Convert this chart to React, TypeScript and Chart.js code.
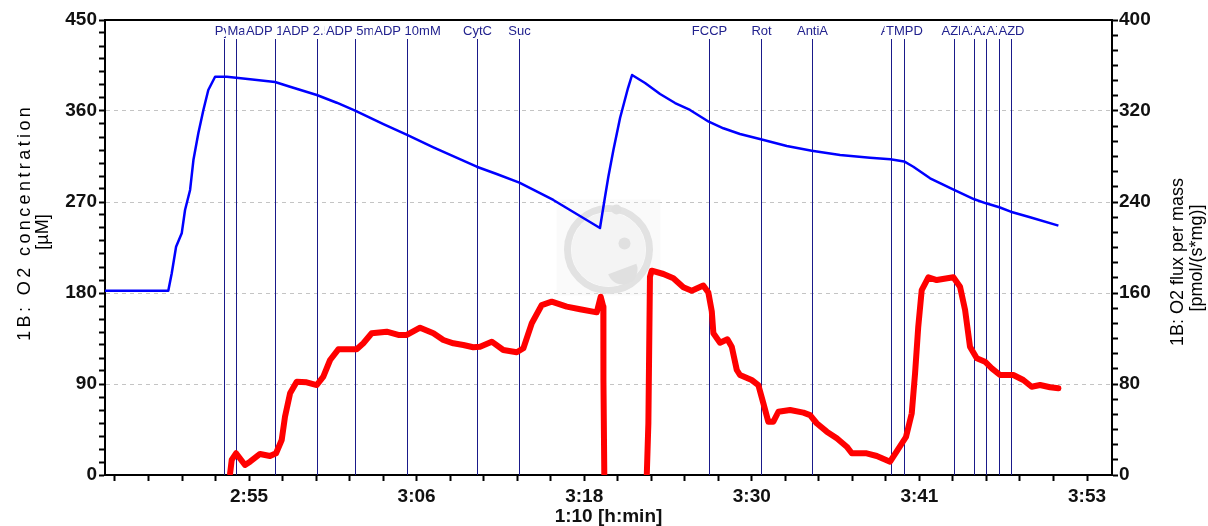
import { useEffect, useRef } from 'react';
import { Chart, registerables } from 'chart.js';

Chart.register(...registerables);

// ---- data (time in minutes of the day) ----
const o2Time = [164.83, 169.21, 169.45, 169.75, 170.14, 170.37, 170.72, 170.95, 171.29, 171.64, 171.98, 172.45, 173.26, 174.87, 176.60, 177.64, 179.49, 180.87, 182.14, 184.10, 185.74, 187.56, 190.56, 191.94, 193.51, 195.86, 199.09, 199.44, 199.67, 200.02, 200.48, 201.03, 201.31, 202.21, 203.25, 204.29, 205.32, 206.62, 207.63, 208.78, 210.22, 212.02, 213.75, 215.71, 217.78, 219.19, 220.14, 220.78, 221.94, 223.60, 225.00, 225.81, 226.73, 227.52, 228.86, 230.82];
const o2Conc = [182.3, 182.3, 199.5, 225.8, 239.0, 262.1, 281.9, 311.5, 337.9, 361.0, 380.8, 393.9, 393.9, 391.3, 388.7, 384.0, 375.8, 368.2, 360.3, 347.1, 336.3, 324.1, 304.9, 297.7, 289.1, 272.0, 244.3, 275.2, 295.0, 321.4, 353.1, 382.7, 395.6, 387.7, 376.8, 367.9, 361.0, 349.4, 342.9, 337.3, 332.0, 325.4, 320.7, 316.5, 313.8, 312.2, 310.1, 304.9, 293.4, 281.9, 272.7, 268.7, 264.8, 260.4, 254.9, 246.6];

const fluxTime = [173.49, 173.60, 173.90, 174.52, 174.87, 175.56, 176.25, 176.67, 177.06, 177.29, 177.64, 178.10, 178.79, 179.49, 179.94, 180.41, 180.98, 182.25, 182.71, 183.29, 184.33, 185.13, 185.72, 186.64, 187.56, 188.25, 188.94, 189.63, 190.32, 190.79, 191.60, 192.40, 193.33, 193.79, 194.37, 195.06, 195.75, 196.79, 197.71, 198.87, 199.14, 199.32, 199.33, 199.39, 201.0, 202.33, 202.44, 202.55, 202.67, 203.48, 204.17, 204.86, 205.44, 206.24, 206.59, 206.83, 206.94, 207.40, 207.91, 208.21, 208.56, 208.78, 209.59, 210.05, 210.40, 210.74, 211.09, 211.44, 212.25, 213.17, 213.63, 214.09, 214.79, 215.48, 216.17, 216.52, 217.55, 218.25, 219.17, 219.63, 220.27, 220.67, 220.90, 221.12, 221.36, 221.82, 222.40, 223.55, 224.01, 224.36, 224.70, 225.17, 225.74, 226.21, 226.78, 227.70, 228.39, 228.97, 229.55, 230.24, 230.82];
const fluxValue = [1.5, 13.2, 19.1, 8.8, 11.7, 18.5, 16.7, 19.1, 30.8, 51.3, 71.8, 82.0, 81.5, 79.1, 86.4, 101.1, 110.5, 110.5, 115.8, 124.6, 126.0, 123.1, 123.1, 129.5, 124.6, 118.7, 115.8, 114.3, 112.3, 112.8, 117.2, 109.9, 107.9, 111.4, 133.4, 149.4, 152.4, 148.0, 145.7, 143.0, 156.7, 148.0, 83.5, 0, null, 0, 45.5, 174.3, 179.6, 176.7, 172.9, 165.0, 162.0, 166.6, 160.4, 143.7, 124.6, 116.3, 119.3, 112.8, 92.3, 87.9, 83.5, 79.1, 63.0, 46.9, 46.9, 55.6, 57.1, 54.8, 52.7, 45.5, 38.1, 32.3, 24.9, 19.1, 19.1, 16.7, 11.7, 20.7, 33.4, 54.2, 89.4, 130.4, 162.6, 173.8, 171.4, 173.8, 165.5, 145.1, 112.8, 102.6, 99.6, 93.8, 87.9, 87.9, 83.5, 77.6, 79.1, 77.1, 76.2];

const eventTime = [173.07, 173.90, 176.60, 179.49, 182.14, 185.74, 190.56, 193.51, 206.62, 210.22, 213.75, 219.20, 220.14, 223.60, 225.00, 225.81, 226.73, 227.52];
const eventLabels = ['Pyr', 'Ma', 'ADP 1mM', 'ADP 2.5mM', 'ADP 5mM', 'ADP 10mM', 'CytC', 'Suc', 'FCCP', 'Rot', 'AntiA', 'Asc', 'TMPD', 'AZD', 'AZD', 'AZD', 'AZD', 'AZD'];

const xMajorTimes = [174.8, 186.4, 198.0, 209.6, 221.2, 232.8];
const xTickLabels = ['2:55', '3:06', '3:18', '3:30', '3:41', '3:53'];
const leftTickValues = [0, 90, 180, 270, 360, 450];
const rightTickValues = [0, 80, 160, 240, 320, 400];

const xTitle = '1:10 [h:min]';
const leftTitle = ['1B: O2 concentration', '[µM]'];
const rightTitle = ['1B: O2 flux per mass', '[pmol/(s*mg)]'];

const X_MIN = 164.83;
const X_MAX = 234.53;

const FONT = '"Liberation Sans", Arial, sans-serif';

const near = (a: number, b: number) => Math.abs(a - b) < 1e-6;

const overlayPlugin = {
  id: 'overlay',
  beforeDatasetsDraw(chart: any) {
    const { ctx, chartArea, scales } = chart;
    const xs = scales.x;
    // watermark logo (faint)
    const cx = (chartArea.left + chartArea.right) / 2;
    const cy = (chartArea.top + chartArea.bottom) / 2;
    ctx.save();
    ctx.fillStyle = 'rgba(238,238,238,0.3)';
    ctx.fillRect(cx - 52, cy - 48, 104, 96);
    ctx.strokeStyle = '#e2e2e2';
    ctx.lineWidth = 7;
    ctx.beginPath();
    ctx.arc(cx, cy + 2, 41, 0, Math.PI * 2);
    ctx.stroke();
    ctx.fillStyle = '#f4f4f4';
    ctx.beginPath();
    ctx.arc(cx, cy + 2, 37, 0, Math.PI * 2);
    ctx.fill();
    ctx.fillStyle = '#e0e0e0';
    ctx.beginPath();
    ctx.arc(cx + 14, cy + 22, 15, -0.4, Math.PI * 0.9);
    ctx.fill();
    ctx.beginPath();
    ctx.arc(cx + 16, cy - 4, 6, 0, Math.PI * 2);
    ctx.fill();
    ctx.beginPath();
    ctx.arc(cx + 8, cy - 38, 5, 0, Math.PI * 2);
    ctx.fill();
    ctx.restore();

    // event markers
    ctx.save();
    ctx.strokeStyle = '#1a1a8a';
    ctx.lineWidth = 1;
    eventTime.forEach((t) => {
      const px = Math.round(xs.getPixelForValue(t)) + 0.5;
      ctx.beginPath();
      ctx.moveTo(px, 39);
      ctx.lineTo(px, chartArea.bottom);
      ctx.stroke();
    });
    ctx.font = `13px ${FONT}`;
    ctx.textAlign = 'center';
    ctx.textBaseline = 'middle';
    eventTime.forEach((t, i) => {
      const px = Math.round(xs.getPixelForValue(t));
      const w = ctx.measureText(eventLabels[i]).width;
      ctx.fillStyle = '#ffffff';
      ctx.fillRect(px - w / 2 - 1, 23, w + 2, 15);
      ctx.fillStyle = '#22228e';
      ctx.fillText(eventLabels[i], px + 0.5, 31);
    });
    ctx.restore();
  },
  afterDraw(chart: any) {
    const { ctx, chartArea } = chart;
    ctx.save();
    // top frame line
    ctx.strokeStyle = '#000';
    ctx.lineWidth = 2;
    ctx.beginPath();
    ctx.moveTo(chartArea.left - 1, chartArea.top);
    ctx.lineTo(chartArea.right + 1, chartArea.top);
    ctx.stroke();
    // y titles (both read bottom-to-top)
    ctx.fillStyle = '#000';
    ctx.font = `18px ${FONT}`;
    ctx.textAlign = 'center';
    ctx.textBaseline = 'middle';
    const drawRot = (text: string, x: number, y: number, spacing = 0) => {
      ctx.save();
      ctx.translate(x, y);
      ctx.rotate(-Math.PI / 2);
      (ctx as any).letterSpacing = `${spacing}px`;
      ctx.fillText(text, spacing / 2, 0);
      ctx.restore();
    };
    drawRot(leftTitle[0], 25, 224, 3.4);
    drawRot(leftTitle[1], 43, 232);
    drawRot(rightTitle[0], 1178, 262);
    drawRot(rightTitle[1], 1197, 258);
    ctx.restore();
  },
};

export default function App() {
  const ref = useRef<HTMLCanvasElement | null>(null);

  useEffect(() => {
    if (!ref.current) return;
    const o2Points = o2Time.map((t, i) => ({ x: t, y: o2Conc[i] }));
    const fluxPoints = fluxTime.map((t, i) => ({ x: t, y: fluxValue[i] }));
    const tickFont = { family: FONT, size: 19, weight: 'bold' as const };

    const chart = new Chart(ref.current, {
      type: 'line',
      data: {
        datasets: [
          {
            label: '1B: O2 flux per mass',
            data: fluxPoints as any,
            yAxisID: 'y1',
            borderColor: '#ff0000',
            backgroundColor: '#ff0000',
            borderWidth: 6,
            pointRadius: 0,
            tension: 0,
            spanGaps: false,
            borderJoinStyle: 'round',
            borderCapStyle: 'round',
          },
          {
            label: '1B: O2 concentration',
            data: o2Points,
            yAxisID: 'y',
            borderColor: '#0000ff',
            backgroundColor: '#0000ff',
            borderWidth: 2.5,
            pointRadius: 0,
            tension: 0,
            borderJoinStyle: 'round',
          },
        ],
      },
      options: {
        responsive: false,
        animation: false,
        devicePixelRatio: 1,
        layout: { padding: { top: 20, left: 0, right: 0, bottom: 0 } },
        plugins: { legend: { display: false }, tooltip: { enabled: false } },
        scales: {
          x: {
            type: 'linear',
            min: X_MIN,
            max: X_MAX,
            afterFit: (s: any) => { s.height = 51; },
            afterBuildTicks: (s: any) => {
              const step = (xMajorTimes[1] - xMajorTimes[0]) / 5;
              const out: any[] = [];
              for (let k = -10; k < 40; k++) {
                const v = xMajorTimes[0] + k * step;
                if (v >= X_MIN - 1e-9 && v <= X_MAX + 1e-9) out.push({ value: v });
              }
              s.ticks = out;
            },
            ticks: {
              autoSkip: false,
              maxRotation: 0,
              minRotation: 0,
              padding: 4,
              color: '#111',
              font: tickFont,
              callback: (v: any) => {
                const j = xMajorTimes.findIndex((m) => Math.abs(m - Number(v)) < 0.01);
                return j >= 0 ? xTickLabels[j] : '';
              },
            },
            grid: { drawOnChartArea: false, drawTicks: true, tickLength: 6, tickWidth: 2, tickColor: '#000' },
            border: { display: true, color: '#000', width: 2 },
            title: { display: true, text: xTitle, color: '#111', font: { family: FONT, size: 19, weight: 'bold' }, padding: { top: 0, bottom: -2 } },
          },
          y: {
            type: 'linear',
            position: 'left',
            min: 0,
            max: 450,
            afterFit: (s: any) => { s.width = 105; },
            afterBuildTicks: (s: any) => {
              const step = (leftTickValues[1] - leftTickValues[0]) / 7;
              const out: any[] = [];
              for (let k = 0; k <= 35; k++) out.push({ value: k * step });
              s.ticks = out;
            },
            ticks: {
              autoSkip: false,
              padding: 2,
              color: '#111',
              font: tickFont,
              callback: (v: any) => {
                const t = leftTickValues.find((m) => near(m, Number(v)));
                return t === undefined ? '' : String(t);
              },
            },
            grid: {
              drawOnChartArea: true,
              tickLength: 6,
              tickWidth: 2,
              tickColor: '#000',
              color: (c: any) => {
                const v = c.tick ? c.tick.value : -1;
                const major = leftTickValues.some((m) => near(m, v));
                return major && v > 0 && v < 450 ? '#c4c4c4' : 'rgba(0,0,0,0)';
              },
            },
            border: { display: true, color: '#000', width: 2, dash: [4, 4] },
          },
          y1: {
            type: 'linear',
            position: 'right',
            min: 0,
            max: 400,
            afterFit: (s: any) => { s.width = 96; },
            afterBuildTicks: (s: any) => {
              const step = (rightTickValues[1] - rightTickValues[0]) / 6;
              const out: any[] = [];
              for (let k = 0; k <= 30; k++) out.push({ value: k * step });
              s.ticks = out;
            },
            ticks: {
              autoSkip: false,
              padding: 1,
              color: '#111',
              font: tickFont,
              callback: (v: any) => {
                const t = rightTickValues.find((m) => near(m, Number(v)));
                return t === undefined ? '' : String(t);
              },
            },
            grid: { drawOnChartArea: false, tickLength: 6, tickWidth: 2, tickColor: '#000' },
            border: { display: true, color: '#000', width: 2 },
          },
        },
      },
      plugins: [overlayPlugin],
    });
    return () => chart.destroy();
  }, []);

  return (
    <div style={{ position: 'fixed', left: 0, top: 0, width: 1208, height: 526, background: '#fff' }}>
      <canvas ref={ref} width={1208} height={526} style={{ display: 'block', width: 1208, height: 526 }} />
    </div>
  );
}
